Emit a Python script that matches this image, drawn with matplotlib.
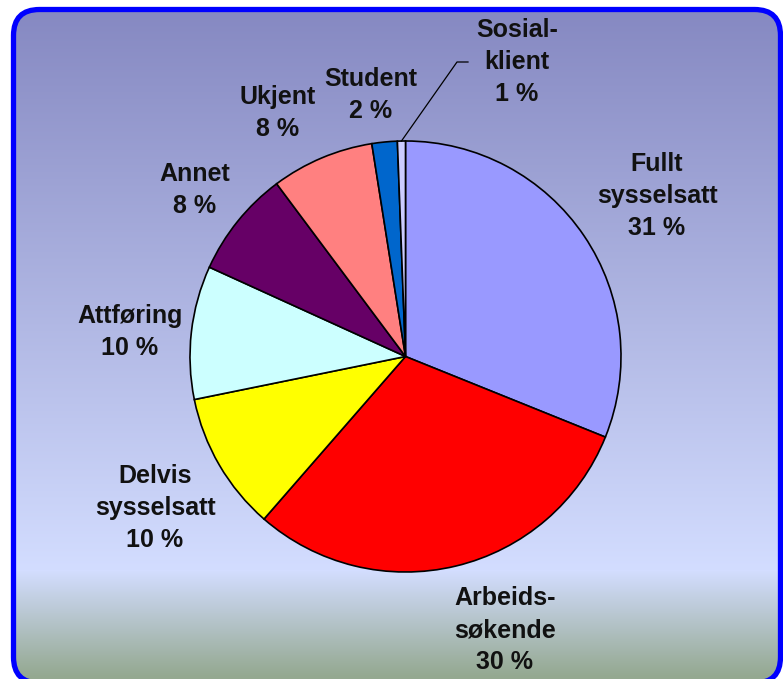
import matplotlib.pyplot as plt
import numpy as np
from matplotlib.patches import FancyBboxPatch
from matplotlib.colors import to_rgb

# slice data, clockwise from 12 o'clock
names = ["Fullt\nsysselsatt", "Arbeids-\nsøkende", "Delvis\nsysselsatt", "Attføring",
         "Annet", "Ukjent", "Student", "Sosial-\nklient"]
values = [31.1, 30.3, 10.4, 10.0, 8.0, 7.7, 1.9, 0.6]
colors = ["#9999FF", "#FF0000", "#FFFF00", "#CCFFFF",
          "#660066", "#FF8080", "#0066CC", "#CCCCFF"]

# label centres in pixel coords (x right, y down)
label_pos = [(657, 196), (505, 630), (155, 508), (130, 332),
             (195, 190), (278, 113), (371, 95), (517, 62)]

W, H = 783, 679
fig = plt.figure(figsize=(W / 100, H / 100), dpi=100)
ax = fig.add_axes([0, 0, 1, 1])

# vertical gradient background inside a rounded blue frame
stops_py = [12, 570, 676]
stops_col = ["#8689C2", "#D3DDFF", "#94A890"]
py = np.arange(H)
rgb = np.array([to_rgb(c) for c in stops_col])
grad = np.stack([np.interp(py, stops_py, rgb[:, i]) for i in range(3)], axis=1)
img = np.repeat(grad[:, None, :], 2, axis=1)

# frame runs off the bottom of the picture
frame = FancyBboxPatch((13.5, -4), 767, 673.5, boxstyle="round,pad=0,rounding_size=26",
                       facecolor="none", edgecolor="#0000FF", linewidth=3.8, zorder=5)
ax.add_patch(frame)
bg = ax.imshow(img, extent=(0, W, 0, H), origin="upper", aspect="auto", zorder=0)
bg.set_clip_path(frame)

cx, cy, r = 405.5, H - 356.5, 215.5
wedges, _ = ax.pie(values, colors=colors, startangle=90, counterclock=False,
                   center=(cx, cy), radius=r, frame=True,
                   wedgeprops=dict(edgecolor="black", linewidth=1.2))
ax.set_xlim(0, W)
ax.set_ylim(0, H)
ax.set_aspect("equal")
ax.axis("off")

for name, v, (px, pyy) in zip(names, values, label_pos):
    ax.text(px, H - pyy, f"{name}\n{round(v)} %", ha="center", va="center",
            fontsize=18, fontweight="bold", family="Liberation Sans",
            color="#111111", linespacing=1.43, zorder=6)

# leader line for the tiny slice
w = wedges[-1]
mid = np.deg2rad((w.theta1 + w.theta2) / 2)
x0, y0 = cx + r * np.cos(mid), cy + r * np.sin(mid)
ax.plot([x0, 457, 468], [y0, H - 62, H - 62], color="black", linewidth=0.9, zorder=4)

fig.savefig("out.png", dpi=100)
